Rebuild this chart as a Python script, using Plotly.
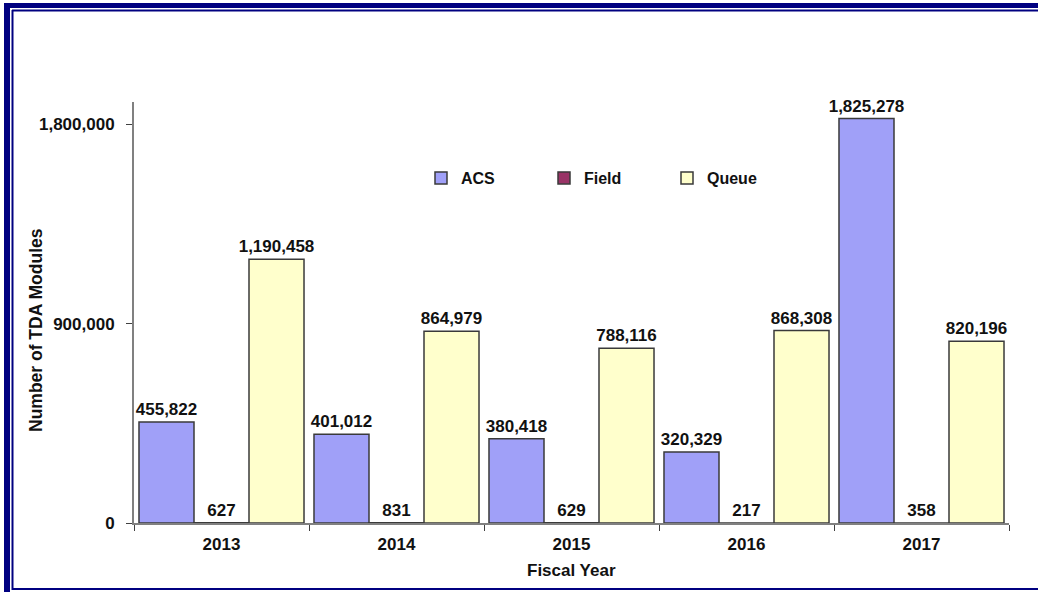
import plotly.graph_objects as go

years = ["2013", "2014", "2015", "2016", "2017"]
acs = [455822, 401012, 380418, 320329, 1825278]
field = [627, 831, 629, 217, 358]
queue = [1190458, 864979, 788116, 868308, 820196]
series_names = ["ACS", "Field", "Queue"]
y_ticks = [0, 900000, 1800000]

W, H = 1038, 592
L, R, T, B = 134, 1009, 102, 523

def px(x):
    return (x - L) / (R - L)

def py(y):
    return (B - y) / (B - T)

FONT = "Arial, Liberation Sans, sans-serif"
colors = ["#A0A0F8", "#993366", "#FFFFCC"]
fig = go.Figure()
for name, vals, col in zip(series_names, [acs, field, queue], colors):
    fig.add_trace(go.Bar(
        x=years, y=vals, name=name,
        marker=dict(color=col, line=dict(color="#3a3a3a", width=1.5)),
        text=[f"{v:,}" for v in vals], textposition="outside",
        textfont=dict(family=FONT, size=17, color="#111111", weight="bold"),
        cliponaxis=False, constraintext="none",
    ))

shapes = []
navy = "#000080"
# outer thick frame (top, left)
shapes.append(dict(type="line", xref="paper", yref="paper", x0=px(4), x1=px(1045), y0=py(5.5), y1=py(5.5), line=dict(color=navy, width=5)))
shapes.append(dict(type="line", xref="paper", yref="paper", x0=px(7), x1=px(7), y0=py(3), y1=py(600), line=dict(color=navy, width=6)))
# inner thin frame
shapes.append(dict(type="line", xref="paper", yref="paper", x0=px(12), x1=px(1045), y0=py(10.5), y1=py(10.5), line=dict(color=navy, width=2)))
shapes.append(dict(type="line", xref="paper", yref="paper", x0=px(12.5), x1=px(12.5), y0=py(10), y1=py(590), line=dict(color=navy, width=2)))
shapes.append(dict(type="line", xref="paper", yref="paper", x0=px(12), x1=px(1045), y0=py(589), y1=py(589), line=dict(color=navy, width=2)))

annotations = [
    dict(text="<b>Fiscal Year</b>", xref="paper", yref="paper", x=0.5, y=py(570), showarrow=False,
         font=dict(family=FONT, size=17, color="#111111"), xanchor="center", yanchor="middle"),
    dict(text="<b>Number of TDA Modules</b>", xref="paper", yref="paper", x=px(36), y=py(330), showarrow=False,
         textangle=-90, font=dict(family=FONT, size=17.5, color="#111111"), xanchor="center", yanchor="middle"),
]

fig.update_layout(
    width=W, height=H,
    margin=dict(l=L, r=W - R, t=T, b=H - B),
    paper_bgcolor="white", plot_bgcolor="white",
    barmode="group", bargap=0.057, bargroupgap=0,
    font=dict(family=FONT, size=16, color="#111111"),
    showlegend=True,
    legend=dict(orientation="h", x=px(421), y=py(178), xanchor="left", yanchor="middle",
                font=dict(family=FONT, size=16, color="#111111", weight="bold"),
                entrywidth=78, entrywidthmode="pixels", bgcolor="rgba(0,0,0,0)",
                itemwidth=30),
    shapes=shapes, annotations=annotations,
    xaxis=dict(showline=True, linecolor="#808080", linewidth=2, ticks="outside", tickson="boundaries",
               ticklen=6, tickcolor="#404040", showgrid=False,
               tickfont=dict(family=FONT, size=17, color="#111111", weight="bold"),
               ticklabelstandoff=5),
    yaxis=dict(range=[0, 1900000], tickvals=y_ticks, ticktext=[f"{v:,}" for v in y_ticks],
               showline=True, linecolor="#808080", linewidth=2, ticks="outside", ticklen=6,
               tickcolor="#404040", showgrid=False, zeroline=False,
               tickfont=dict(family=FONT, size=17, color="#111111", weight="bold"),
               ticklabelstandoff=8),
)
fig.write_html("out.html", config={"displayModeBar": False},
               post_script="document.body.style.margin='0';document.body.style.padding='0';")
